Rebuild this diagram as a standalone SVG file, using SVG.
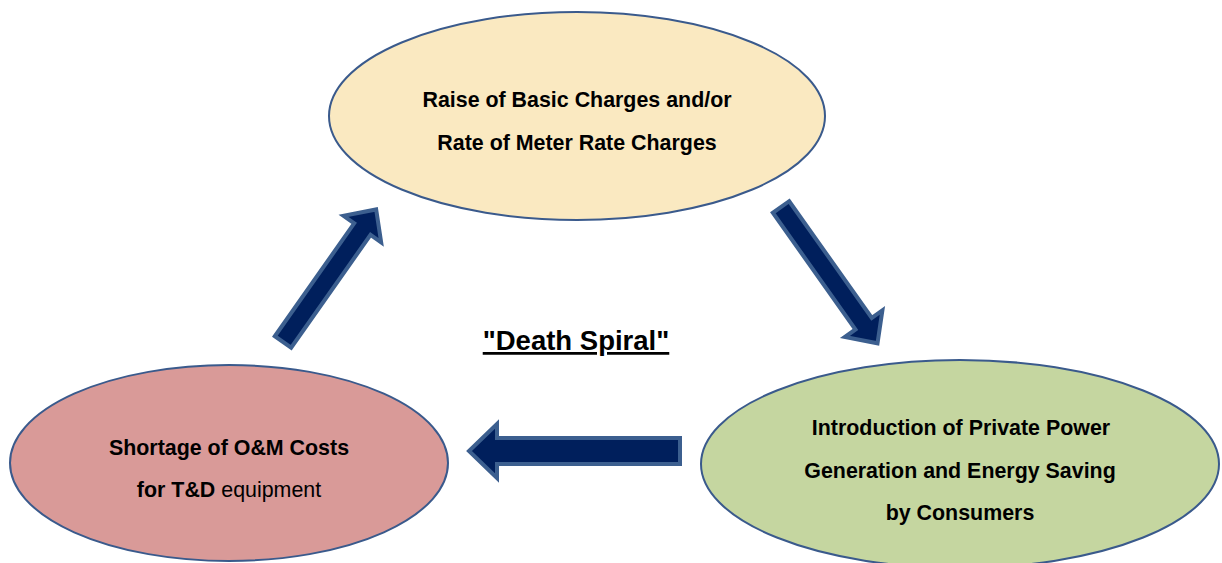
<svg xmlns="http://www.w3.org/2000/svg" width="1222" height="563" viewBox="0 0 1222 563">
<style>
.node{stroke:#3A5A8C;stroke-width:2}
.t{font-family:"Liberation Sans",Arial,sans-serif;font-size:21.4px;font-weight:bold;fill:#000;text-anchor:middle}
.r{font-weight:normal}
.arrow{fill:#001F5C;stroke:#3C5F8F;stroke-width:4;stroke-linejoin:miter}
</style>
<rect width="1222" height="563" fill="#fff"/>
<g id="connectors">
<path class="arrow" transform="translate(283,342) rotate(-54.9)" d="M0,-10 L138,-10 L138,-23 L162,0 L138,23 L138,10 L0,10 Z"/>
<path class="arrow" transform="translate(781,207) rotate(54.7)" d="M0,-10 L143,-10 L143,-23 L167,0 L143,23 L143,10 L0,10 Z"/>
<path class="arrow" d="M680,438 L497,438 L497,424 L469,451 L497,478 L497,464 L680,464 Z"/>
</g>
<g id="node-top">
<ellipse class="node" cx="577" cy="116" rx="248" ry="104" fill="#FAE9C1"/>
<text class="t" x="577" y="107">Raise of Basic Charges and/or</text>
<text class="t" x="577" y="150">Rate of Meter Rate Charges</text>
</g>
<g id="node-left">
<ellipse class="node" cx="229" cy="463" rx="219" ry="98" fill="#D99A98"/>
<text class="t" x="229" y="455">Shortage of O&amp;M Costs</text>
<text class="t" x="229" y="497">for T&amp;D <tspan class="r">equipment</tspan></text>
</g>
<g id="node-right">
<ellipse class="node" cx="960" cy="464" rx="259" ry="104" fill="#C5D6A0"/>
<text class="t" x="961" y="435">Introduction of Private Power</text>
<text class="t" x="960" y="478">Generation and Energy Saving</text>
<text class="t" x="960" y="520">by Consumers</text>
</g>
<g id="title">
<text class="t" x="576" y="350" style="font-size:27.5px" text-decoration="underline">"Death Spiral"</text>
</g>
</svg>
